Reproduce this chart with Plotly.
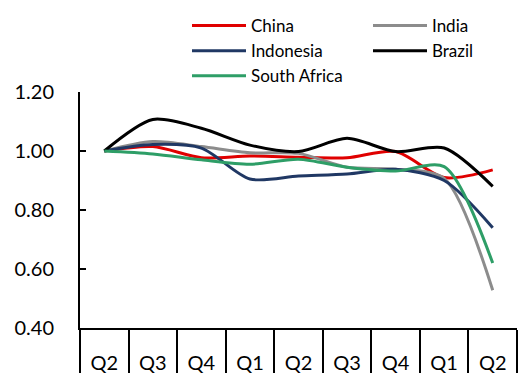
import plotly.graph_objects as go

quarters = ["Q2", "Q3", "Q4", "Q1", "Q2", "Q3", "Q4", "Q1", "Q2"]
china = [1.00, 1.015, 0.977, 0.983, 0.979, 0.977, 0.998, 0.910, 0.936]
india = [1.00, 1.032, 1.015, 0.994, 0.992, 0.945, 0.938, 0.907, 0.528]
indonesia = [1.00, 1.022, 1.010, 0.905, 0.915, 0.922, 0.938, 0.900, 0.740]
brazil = [1.00, 1.107, 1.077, 1.020, 0.998, 1.043, 0.998, 1.010, 0.880]
south_africa = [1.00, 0.990, 0.970, 0.955, 0.972, 0.945, 0.932, 0.947, 0.620]

x = list(range(len(quarters)))
series = [
    ("China", china, "#E00000"),
    ("India", india, "#8C8C8C"),
    ("Indonesia", indonesia, "#203864"),
    ("Brazil", brazil, "#000000"),
    ("South Africa", south_africa, "#2E9E67"),
]

fig = go.Figure()
for name, vals, col in series:
    fig.add_trace(go.Scatter(x=x, y=vals, name=name, mode="lines",
                             line=dict(color=col, width=3, shape="spline", smoothing=0.8)))

FONT = "Lato, Liberation Sans, sans-serif"
fig.update_layout(
    width=518, height=373,
    margin=dict(l=80, r=1, t=92, b=45, autoexpand=False),
    plot_bgcolor="white", paper_bgcolor="white",
    font=dict(family=FONT, color="black"),
    showlegend=True,
    legend=dict(orientation="h", xref="container", yref="container",
                x=187/518, y=1 - 8/373, xanchor="left", yanchor="top",
                font=dict(size=17, family=FONT), itemwidth=54,
                entrywidth=112, entrywidthmode="pixels",
                bgcolor="rgba(0,0,0,0)"),
    xaxis=dict(tickmode="array", tickvals=x, ticktext=quarters,
               range=[-0.5, 8.5], showline=True, linecolor="black", linewidth=2,
               ticks="", automargin=False,
               minor=dict(tickmode="linear", tick0=-0.5, dtick=1, ticks="outside",
                          ticklen=45, tickwidth=2, tickcolor="black", showgrid=False),
               showgrid=False, zeroline=False,
               tickfont=dict(size=20), ticklabelstandoff=16),
    yaxis=dict(range=[0.4, 1.2], tickvals=[0.4, 0.6, 0.8, 1.0, 1.2],
               tickformat=".2f", showline=True, linecolor="black", linewidth=2,
               ticks="inside", ticklen=6, tickwidth=2, tickcolor="black",
               showgrid=False, zeroline=False, tickfont=dict(size=20),
               ticklabelstandoff=20, automargin=False),
)
fig.write_html("out.html")
